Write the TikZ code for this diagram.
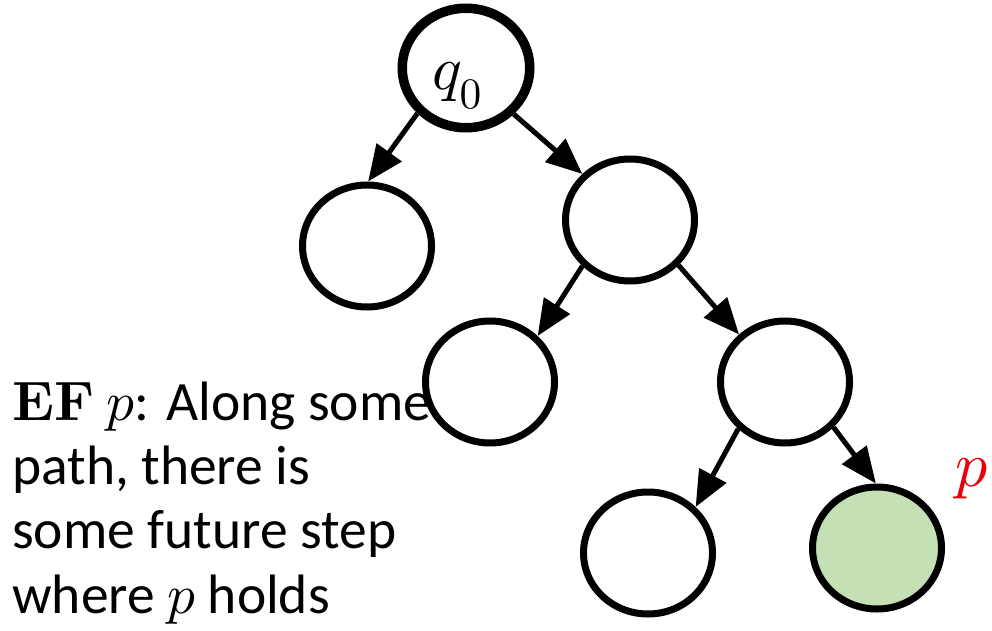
\documentclass[tikz,border=0pt]{standalone}
\DeclareFontShape{OML}{cmm}{m}{it}{<->cmmi10}{}
\DeclareFontShape{OML}{cmm}{b}{it}{<->cmmib10}{}
\DeclareFontShape{OT1}{cmr}{m}{n}{<->cmr10}{}
\DeclareFontShape{OT1}{cmr}{bx}{n}{<->cmbx10}{}
\usepackage[no-math]{fontspec}
\setmainfont{Carlito}
\usetikzlibrary{arrows.meta,shapes.geometric}
\definecolor{pgreen}{HTML}{C5E0B4}
\definecolor{pred}{HTML}{E8000B}
\begin{document}
\begin{tikzpicture}[x=1pt,y=1pt,
  st/.style={ellipse, draw=black, line width=7pt, minimum width=129pt, minimum height=122pt, inner sep=0pt, fill=white},
  stroot/.style={st, line width=9.5pt, minimum width=127.5pt, minimum height=119.5pt},
  goal/.style={st, fill=pgreen},
  tr/.style={line width=5pt, -{Triangle[length=36pt,width=30pt]}}]
\useasboundingbox (0,0) rectangle (992,630);
\node[stroot] (q0) at (466,562) {\makebox[0pt]{\raisebox{-21.5pt}[0pt][0pt]{\fontsize{62}{62}\selectfont$q_0$}\hspace{18pt}}};
\node[st] (l1) at (367,384) {};
\node[st] (r1) at (630,410) {};
\node[st] (l2) at (490,248) {};
\node[st] (r2) at (785,248) {};
\node[st] (l3) at (648,77) {};
\node[goal] (g) at (877,82) {};
\draw[tr] (q0.223) -- (l1.89);
\draw[tr] (q0.316) -- (r1.136);
\draw[tr] (r1.224) -- (l2.44);
\draw[tr] (r1.317) -- (r2.134);
\draw[tr] (r2.225) -- (l3.44);
\draw[tr] (r2.317) -- (g.91);
\node[text=pred, inner sep=0pt] (plab) at (972,151.5) {\fontsize{64}{64}\selectfont$p$};
\node[anchor=base west, align=left, inner sep=0pt, font=\fontsize{55.5}{64.3}\selectfont] (txt) at (12,17)
  {$\mathbf{EF}$ $p$: Along some\\path, there is\\some future step\\where $p$ holds};
\end{tikzpicture}
\end{document}
